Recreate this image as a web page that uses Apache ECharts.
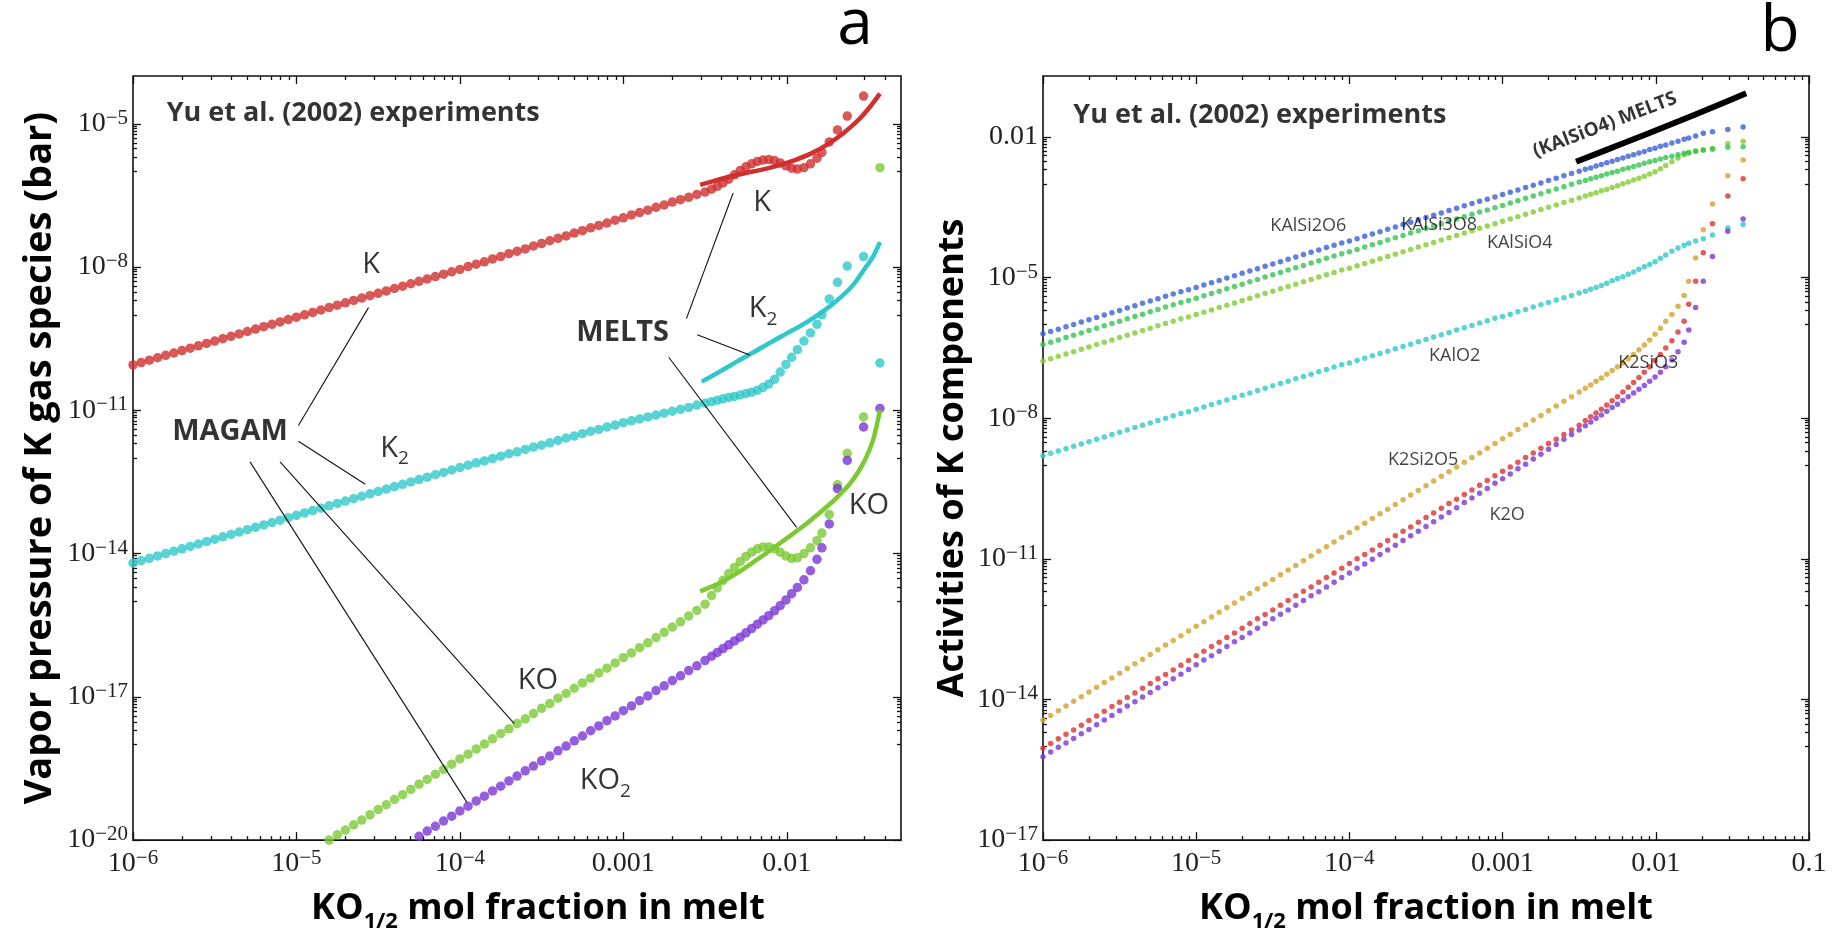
<!DOCTYPE html>
<html>
<head>
<meta charset="utf-8">
<title>K vapor pressures and activities</title>
<script src="https://cdn.jsdelivr.net/npm/echarts@6/dist/echarts.min.js"></script>
</head>
<body style="margin:0; background:#fff">
<div id="main" style="width:1836px; height:938px"></div>
<script>
// log10 of KO1/2 mol fraction for every experimental point (shared by both panels)
var logX = [
  -6.00,-5.95,-5.90,-5.85,-5.80,-5.75,-5.70,-5.65,-5.60,-5.55,
  -5.50,-5.45,-5.40,-5.35,-5.30,-5.25,-5.20,-5.15,-5.10,-5.05,
  -5.00,-4.95,-4.90,-4.85,-4.80,-4.75,-4.70,-4.65,-4.60,-4.55,
  -4.50,-4.45,-4.40,-4.35,-4.30,-4.25,-4.20,-4.15,-4.10,-4.05,
  -4.00,-3.95,-3.90,-3.85,-3.80,-3.75,-3.70,-3.65,-3.60,-3.55,
  -3.50,-3.45,-3.40,-3.35,-3.30,-3.25,-3.20,-3.15,-3.10,-3.05,
  -3.00,-2.95,-2.90,-2.85,-2.80,-2.75,-2.70,-2.65,-2.60,-2.55,
  -2.50,-2.46,-2.425,-2.39,-2.355,-2.32,-2.285,-2.25,-2.215,-2.18,
  -2.145,-2.11,-2.075,-2.04,-2.005,-1.97,-1.935,-1.895,-1.855,-1.815,
  -1.785,-1.74,-1.69,-1.63,-1.53,-1.43
];

// ---- panel a : log10 vapor pressure (bar), MAGAM points ----
var pK = [
  -10.05,-10.00,-9.95,-9.90,-9.85,-9.80,-9.75,-9.70,-9.65,-9.60,
  -9.55,-9.50,-9.45,-9.40,-9.35,-9.30,-9.25,-9.20,-9.15,-9.10,
  -9.05,-9.00,-8.95,-8.90,-8.85,-8.80,-8.75,-8.70,-8.65,-8.60,
  -8.55,-8.50,-8.45,-8.40,-8.35,-8.30,-8.25,-8.20,-8.15,-8.10,
  -8.05,-7.99,-7.94,-7.89,-7.83,-7.78,-7.72,-7.67,-7.62,-7.56,
  -7.51,-7.45,-7.40,-7.35,-7.29,-7.24,-7.18,-7.13,-7.08,-7.02,
  -6.97,-6.91,-6.86,-6.81,-6.75,-6.70,-6.64,-6.59,-6.54,-6.48,
  -6.43,-6.37,-6.31,-6.24,-6.16,-6.07,-5.98,-5.90,-5.84,-5.79,
  -5.76,-5.75,-5.77,-5.82,-5.88,-5.93,-5.95,-5.92,-5.84,-5.72,
  -5.60,-5.38,-5.13,-4.84,-4.42,null
];
var pK2 = [
  -14.20,-14.15,-14.10,-14.05,-14.00,-13.95,-13.90,-13.85,-13.80,-13.75,
  -13.70,-13.65,-13.60,-13.55,-13.50,-13.45,-13.40,-13.35,-13.30,-13.25,
  -13.20,-13.15,-13.10,-13.05,-13.00,-12.95,-12.90,-12.85,-12.80,-12.75,
  -12.70,-12.65,-12.60,-12.55,-12.50,-12.45,-12.40,-12.35,-12.30,-12.25,
  -12.20,-12.15,-12.10,-12.06,-12.01,-11.96,-11.91,-11.87,-11.82,-11.77,
  -11.73,-11.68,-11.63,-11.58,-11.54,-11.49,-11.44,-11.40,-11.35,-11.31,
  -11.26,-11.22,-11.18,-11.14,-11.10,-11.06,-11.02,-10.98,-10.94,-10.89,
  -10.85,-10.82,-10.79,-10.76,-10.73,-10.71,-10.68,-10.65,-10.62,-10.58,
  -10.52,-10.45,-10.35,-10.20,-10.04,-9.89,-9.73,-9.55,-9.38,-9.20,
  -9.00,-8.67,-8.32,-7.98,-7.78,-10.01
];
var pKO = [
  null,null,null,null,null,null,null,null,null,null,
  null,null,null,null,null,null,null,null,null,null,
  null,null,null,-20.11,-20.00,-19.89,-19.79,-19.68,-19.58,-19.47,
  -19.36,-19.26,-19.15,-19.05,-18.94,-18.83,-18.73,-18.62,-18.52,-18.41,
  -18.30,-18.20,-18.09,-17.99,-17.88,-17.77,-17.67,-17.56,-17.46,-17.35,
  -17.24,-17.14,-17.03,-16.93,-16.82,-16.71,-16.61,-16.50,-16.40,-16.29,
  -16.18,-16.08,-15.97,-15.87,-15.76,-15.65,-15.54,-15.43,-15.31,-15.19,
  -15.06,-14.88,-14.72,-14.56,-14.42,-14.29,-14.17,-14.06,-13.97,-13.90,
  -13.86,-13.86,-13.90,-13.97,-14.05,-14.10,-14.09,-14.00,-13.88,-13.73,
  -13.57,-13.18,-12.56,-11.90,-11.14,-5.92
];
var pKO2 = [
  null,null,null,null,null,null,null,null,null,null,
  null,null,null,null,null,null,null,null,null,null,
  null,null,null,null,null,null,null,null,null,null,
  null,null,null,-20.13,-20.02,-19.92,-19.81,-19.71,-19.60,-19.50,
  -19.39,-19.29,-19.18,-19.08,-18.97,-18.87,-18.76,-18.66,-18.55,-18.45,
  -18.34,-18.24,-18.13,-18.03,-17.92,-17.82,-17.71,-17.61,-17.50,-17.40,
  -17.29,-17.19,-17.08,-16.98,-16.87,-16.77,-16.66,-16.56,-16.45,-16.35,
  -16.24,-16.15,-16.07,-15.99,-15.91,-15.83,-15.75,-15.66,-15.57,-15.48,
  -15.39,-15.30,-15.20,-15.09,-14.97,-14.84,-14.71,-14.55,-14.36,-14.12,
  -13.88,-13.38,-12.64,-12.05,-11.35,-10.96
];

// MELTS curves of panel a (log10 x, log10 p)
var meltsKx  = [-2.53,-2.45,-2.35,-2.25,-2.15,-2.05,-1.95,-1.85,-1.75,-1.65,-1.55,-1.48,-1.43];
var meltsK   = [-6.28,-6.20,-6.11,-6.03,-5.96,-5.87,-5.76,-5.62,-5.43,-5.19,-4.88,-4.60,-4.37];
var meltsK2x = [-2.52,-2.40,-2.30,-2.20,-2.10,-2.00,-1.90,-1.80,-1.70,-1.60,-1.52,-1.47,-1.43];
var meltsK2  = [-10.40,-10.17,-9.97,-9.78,-9.58,-9.39,-9.20,-8.98,-8.72,-8.40,-8.02,-7.77,-7.48];
var meltsKOx = [-2.53,-2.40,-2.30,-2.20,-2.10,-2.00,-1.90,-1.80,-1.70,-1.60,-1.52,-1.47,-1.43];
var meltsKO  = [-14.79,-14.60,-14.40,-14.17,-13.93,-13.68,-13.43,-13.15,-12.85,-12.48,-12.03,-11.60,-11.00];

// ---- panel b : log10 activities ----
var aKAlSi2O6 = [
  -6.20,-6.15,-6.10,-6.05,-6.00,-5.95,-5.90,-5.85,-5.80,-5.75,
  -5.70,-5.65,-5.60,-5.55,-5.50,-5.45,-5.40,-5.35,-5.30,-5.26,
  -5.21,-5.16,-5.11,-5.06,-5.01,-4.96,-4.91,-4.86,-4.81,-4.76,
  -4.71,-4.66,-4.61,-4.56,-4.51,-4.46,-4.41,-4.36,-4.31,-4.26,
  -4.22,-4.17,-4.12,-4.07,-4.02,-3.97,-3.92,-3.87,-3.82,-3.77,
  -3.72,-3.67,-3.62,-3.57,-3.52,-3.47,-3.42,-3.37,-3.33,-3.28,
  -3.23,-3.18,-3.13,-3.08,-3.03,-2.98,-2.93,-2.88,-2.83,-2.78,
  -2.73,-2.69,-2.66,-2.62,-2.59,-2.55,-2.52,-2.48,-2.45,-2.41,
  -2.38,-2.34,-2.31,-2.27,-2.24,-2.20,-2.17,-2.13,-2.09,-2.05,
  -2.02,-1.98,-1.92,-1.89,-1.84,-1.79
];
var aKAlSi3O8 = [
  -6.43,-6.38,-6.33,-6.28,-6.23,-6.18,-6.13,-6.08,-6.03,-5.98,
  -5.93,-5.88,-5.83,-5.78,-5.73,-5.68,-5.63,-5.58,-5.53,-5.49,
  -5.44,-5.39,-5.34,-5.29,-5.24,-5.19,-5.14,-5.09,-5.04,-4.99,
  -4.94,-4.89,-4.84,-4.79,-4.74,-4.69,-4.64,-4.59,-4.54,-4.49,
  -4.45,-4.40,-4.35,-4.30,-4.25,-4.20,-4.15,-4.10,-4.05,-4.00,
  -3.95,-3.90,-3.85,-3.80,-3.75,-3.70,-3.65,-3.60,-3.56,-3.51,
  -3.46,-3.41,-3.36,-3.31,-3.26,-3.21,-3.16,-3.11,-3.06,-3.01,
  -2.96,-2.93,-2.89,-2.86,-2.83,-2.79,-2.76,-2.73,-2.69,-2.66,
  -2.63,-2.60,-2.56,-2.53,-2.50,-2.47,-2.44,-2.41,-2.38,-2.35,
  -2.33,-2.30,-2.28,-2.26,-2.22,-2.21
];
var aKAlSiO4 = [
  -6.78,-6.73,-6.68,-6.63,-6.58,-6.53,-6.48,-6.43,-6.38,-6.33,
  -6.28,-6.23,-6.18,-6.13,-6.08,-6.03,-5.98,-5.93,-5.88,-5.84,
  -5.79,-5.74,-5.69,-5.64,-5.59,-5.54,-5.49,-5.44,-5.39,-5.34,
  -5.29,-5.24,-5.19,-5.14,-5.09,-5.04,-4.99,-4.94,-4.89,-4.84,
  -4.80,-4.75,-4.70,-4.65,-4.60,-4.55,-4.50,-4.45,-4.40,-4.35,
  -4.30,-4.25,-4.20,-4.15,-4.10,-4.05,-4.00,-3.95,-3.90,-3.85,
  -3.80,-3.75,-3.70,-3.65,-3.60,-3.55,-3.50,-3.45,-3.40,-3.35,
  -3.30,-3.26,-3.22,-3.19,-3.15,-3.12,-3.08,-3.04,-3.00,-2.96,
  -2.92,-2.88,-2.84,-2.79,-2.74,-2.68,-2.61,-2.53,-2.45,-2.38,
  -2.34,-2.31,-2.28,-2.24,-2.14,-2.09
];
var aKAlO2 = [
  -8.80,-8.75,-8.70,-8.65,-8.60,-8.55,-8.50,-8.45,-8.40,-8.35,
  -8.30,-8.25,-8.20,-8.15,-8.10,-8.05,-8.00,-7.95,-7.90,-7.86,
  -7.81,-7.76,-7.71,-7.66,-7.61,-7.56,-7.51,-7.46,-7.41,-7.36,
  -7.31,-7.26,-7.21,-7.16,-7.11,-7.06,-7.01,-6.96,-6.91,-6.86,
  -6.82,-6.77,-6.72,-6.67,-6.62,-6.57,-6.52,-6.47,-6.42,-6.37,
  -6.32,-6.27,-6.22,-6.17,-6.12,-6.07,-6.02,-5.97,-5.92,-5.87,
  -5.83,-5.78,-5.73,-5.68,-5.63,-5.58,-5.53,-5.48,-5.43,-5.38,
  -5.33,-5.29,-5.25,-5.21,-5.17,-5.12,-5.07,-5.02,-4.98,-4.93,
  -4.88,-4.82,-4.77,-4.72,-4.66,-4.59,-4.52,-4.44,-4.37,-4.31,
  -4.27,-4.22,-4.17,-4.09,-3.94,-3.87
];
var aK2Si2O5 = [
  -14.44,-14.34,-14.24,-14.14,-14.04,-13.94,-13.84,-13.74,-13.64,-13.54,
  -13.44,-13.34,-13.24,-13.14,-13.04,-12.94,-12.84,-12.74,-12.64,-12.54,
  -12.44,-12.34,-12.24,-12.14,-12.04,-11.94,-11.84,-11.74,-11.64,-11.54,
  -11.44,-11.34,-11.24,-11.14,-11.04,-10.94,-10.84,-10.74,-10.64,-10.54,
  -10.44,-10.34,-10.24,-10.14,-10.04,-9.94,-9.84,-9.74,-9.64,-9.54,
  -9.44,-9.34,-9.24,-9.14,-9.04,-8.94,-8.84,-8.74,-8.64,-8.54,
  -8.44,-8.34,-8.24,-8.14,-8.04,-7.94,-7.84,-7.74,-7.64,-7.54,
  -7.44,-7.36,-7.29,-7.21,-7.14,-7.06,-6.98,-6.90,-6.82,-6.73,
  -6.64,-6.54,-6.44,-6.33,-6.21,-6.08,-5.93,-5.79,-5.61,-5.38,
  -5.08,-4.58,-3.98,-3.43,-2.83,-2.49
];
var aK2SiO3 = [
  -15.04,-14.94,-14.84,-14.74,-14.65,-14.55,-14.45,-14.35,-14.25,-14.15,
  -14.06,-13.96,-13.86,-13.76,-13.66,-13.56,-13.47,-13.37,-13.27,-13.17,
  -13.07,-12.97,-12.87,-12.78,-12.68,-12.58,-12.48,-12.38,-12.28,-12.19,
  -12.09,-11.99,-11.89,-11.79,-11.69,-11.60,-11.50,-11.40,-11.30,-11.20,
  -11.10,-11.00,-10.91,-10.81,-10.71,-10.61,-10.51,-10.41,-10.32,-10.22,
  -10.12,-10.02,-9.92,-9.82,-9.73,-9.63,-9.53,-9.43,-9.33,-9.23,
  -9.13,-9.04,-8.94,-8.84,-8.74,-8.64,-8.54,-8.45,-8.35,-8.25,
  -8.15,-8.05,-7.97,-7.89,-7.81,-7.72,-7.63,-7.54,-7.44,-7.34,
  -7.24,-7.13,-7.02,-6.90,-6.77,-6.64,-6.50,-6.35,-6.16,-5.93,
  -5.57,-5.08,-4.47,-3.85,-3.26,-2.89
];
var aK2O = [
  -15.22,-15.12,-15.02,-14.93,-14.83,-14.73,-14.64,-14.54,-14.44,-14.34,
  -14.24,-14.14,-14.05,-13.95,-13.85,-13.75,-13.66,-13.56,-13.46,-13.36,
  -13.26,-13.16,-13.07,-12.97,-12.87,-12.77,-12.68,-12.58,-12.48,-12.38,
  -12.28,-12.18,-12.09,-11.99,-11.89,-11.79,-11.70,-11.60,-11.50,-11.40,
  -11.30,-11.20,-11.11,-11.01,-10.91,-10.81,-10.71,-10.61,-10.51,-10.41,
  -10.31,-10.21,-10.11,-10.01,-9.91,-9.80,-9.70,-9.60,-9.50,-9.39,
  -9.29,-9.19,-9.08,-8.98,-8.87,-8.77,-8.66,-8.56,-8.45,-8.35,
  -8.25,-8.16,-8.08,-8.00,-7.93,-7.85,-7.77,-7.70,-7.62,-7.54,
  -7.46,-7.38,-7.30,-7.21,-7.12,-7.02,-6.90,-6.76,-6.58,-6.38,
  -6.12,-5.64,-5.08,-4.55,-4.01,-3.75
];
// MELTS KAlSiO4 activity
var meltsBx = [-2.52,-2.20,-1.90,-1.60,-1.41];
var meltsBy = [-2.53,-2.12,-1.73,-1.33,-1.07];

// annotations: [text, log x, log y, style]
var labelsA = [
  ['Yu et al. (2002) experiments', -5.794, -4.78, 'head'],
  ['MAGAM', -5.406, -11.45, 'bold'],
  ['MELTS', -3.004, -9.37, 'bold'],
  ['K', -4.543, -7.96, 'sp'],
  ['K{s|2}', -4.40, -11.80, 'sp'],
  ['K', -2.150, -6.66, 'sp'],
  ['K{s|2}', -2.145, -8.88, 'sp'],
  ['KO', -3.523, -16.67, 'sp'],
  ['KO{s|2}', -3.110, -18.76, 'sp'],
  ['KO', -1.497, -12.99, 'sp']
];
// leader lines: [x1, y1, x2, y2]
var leadersA = [
  [-4.988, -11.32, -4.559, -8.85],
  [-4.988, -11.65, -4.579, -12.55],
  [-5.100, -12.08, -3.667, -17.56],
  [-5.284, -12.08, -3.957, -19.21],
  [-2.614, -9.08, -2.328, -6.45],
  [-2.548, -9.42, -2.226, -9.84],
  [-2.722, -9.89, -1.940, -13.45]
];
var labelsB = [
  ['Yu et al. (2002) experiments', -5.802, -1.53, 'head'],
  ['KAlSi2O6', -4.268, -3.89, 'small'],
  ['KAlSi3O8', -3.414, -3.87, 'small'],
  ['KAlSiO4', -2.888, -4.25, 'small'],
  ['KAlO2', -3.313, -6.66, 'small'],
  ['K2SiO3', -2.049, -6.82, 'small'],
  ['K2Si2O5', -3.518, -8.89, 'small'],
  ['K2O', -2.971, -10.06, 'small'],
  ['(KAlSiO4) MELTS', -2.332, -1.745, 'rot']
];

var chart = echarts.init(document.getElementById('main'));

function pts(ys) {
  var out = [];
  for (var i = 0; i < logX.length; i++) if (ys[i] != null) out.push([logX[i], ys[i]]);
  return out;
}
function zip(xs, ys) { return xs.map(function (x, i) { return [x, ys[i]]; }); }

// log-style minor ticks
function decadeMinors(n0, n1, maxV) {
  var t = [];
  for (var n = n0; n < n1; n++) for (var k = 2; k <= 9; k++) {
    var v = n + Math.log10(k);
    if (v < maxV - 1e-6) t.push(v);
  }
  return t;
}
function belowMajors(majors, minV) {
  var t = [];
  majors.forEach(function (m) {
    for (var k = 1; k <= 9; k++) {
      var v = m - 1 + Math.log10(k);
      if (v > minV + 1e-6) t.push(v);
    }
  });
  return t;
}

var SERIF = 'Liberation Serif';
var SUP = {
  base: {fontSize: 28, fontFamily: SERIF, color: '#222', lineHeight: 32},
  ex: {fontSize: 21, fontFamily: SERIF, color: '#222', lineHeight: 20, verticalAlign: 'top'}
};
function powLabel(v) {
  var n = Math.round(v);
  if (n === -3) return '{base|0.001}';
  if (n === -2) return '{base|0.01}';
  if (n === -1) return '{base|0.1}';
  return '{base|10}{ex|\u2212' + (-n) + '}';
}

var tickLine = {color: '#111', width: 1.3};
function frameAxes(gi, pos, range, major, minor, labelMargin, name) {
  var common = {type: 'value', gridIndex: gi, min: range[0], max: range[1],
    splitLine: {show: false}, axisLine: {show: false, onZero: false}, silent: true};
  var mainAx = Object.assign({}, common, {
    position: pos,
    axisTick: {show: true, inside: true, length: 8, lineStyle: tickLine, customValues: major},
    axisLabel: labelMargin != null
      ? {show: true, customValues: major, formatter: powLabel, rich: SUP, margin: labelMargin,
         fontFamily: SERIF, fontSize: 28, color: '#222', lineHeight: 32}
      : {show: false}
  });
  if (name) Object.assign(mainAx, name);
  var minorAx = Object.assign({}, common, {
    position: pos,
    axisTick: {show: true, inside: true, length: 4, lineStyle: tickLine, customValues: minor},
    axisLabel: {show: false}
  });
  return [mainAx, minorAx];
}

function yName(text, size, gap) {
  return {name: text, nameLocation: 'middle', nameGap: gap,
    nameTextStyle: {fontFamily: 'Open Sans', fontWeight: 'bold', fontSize: size, color: '#000'}};
}
function xName(padLeft) {
  return {
    name: 'KO{s|1/2} mol fraction in melt', nameLocation: 'middle', nameGap: 42,
    nameTextStyle: {fontFamily: 'Open Sans', fontWeight: 'bold', fontSize: 36, color: '#000',
      lineHeight: 48, padding: [0, 0, 0, padLeft],
      rich: {s: {fontFamily: 'Open Sans', fontWeight: 'bold', fontSize: 22, color: '#000', lineHeight: 18, verticalAlign: 'bottom'}}}
  };
}

var xrA = [-6, Math.log10(0.05)], yrA = [-20, -4];
var xrB = [-6, -1], yrB = [-17, -0.7];
var xMajA = [-6, -5, -4, -3, -2], xMinA = decadeMinors(-6, -1, xrA[1]);
var xMajB = [-6, -5, -4, -3, -2, -1], xMinB = decadeMinors(-6, -1, xrB[1]);
var yMajA = [-20, -17, -14, -11, -8, -5], yMinA = belowMajors([-17, -14, -11, -8, -5], -20);
var yMajB = [-17, -14, -11, -8, -5, -2], yMinB = belowMajors([-14, -11, -8, -5, -2], -17);

var xAxes = [].concat(
  frameAxes(0, 'bottom', xrA, xMajA, xMinA, 8, xName(42)),
  frameAxes(0, 'top', xrA, xMajA, xMinA, null),
  frameAxes(1, 'bottom', xrB, xMajB, xMinB, 8, xName(0)),
  frameAxes(1, 'top', xrB, xMajB, xMinB, null)
);
var yAxes = [].concat(
  frameAxes(0, 'left', yrA, yMajA, yMinA, 5, yName('Vapor pressure of K gas species (bar)', 38, 74)),
  frameAxes(0, 'right', yrA, yMajA, yMinA, null),
  frameAxes(1, 'left', yrB, yMajB, yMinB, 5, yName('Activities of K components', 36, 72)),
  frameAxes(1, 'right', yrB, yMajB, yMinB, null)
);

var labelStyles = {
  head: {fontFamily: 'Open Sans', fontWeight: 'bold', fontSize: 27, color: '#000', align: 'left'},
  bold: {fontFamily: 'Open Sans', fontWeight: 'bold', fontSize: 29, color: '#000'},
  sp: {fontFamily: 'Open Sans', fontSize: 29, color: '#000', lineHeight: 40,
       rich: {s: {fontFamily: 'Open Sans', fontSize: 19, color: '#000', lineHeight: 14, verticalAlign: 'bottom'}}},
  small: {fontFamily: 'Open Sans', fontSize: 18, color: '#111'},
  rot: {fontFamily: 'Open Sans', fontWeight: 'bold', fontSize: 19, color: '#000', rotate: 21}
};
function labelSeries(list, ai) {
  return {
    type: 'scatter', xAxisIndex: ai, yAxisIndex: ai, symbolSize: 1, silent: true, z: 10,
    itemStyle: {color: 'rgba(0,0,0,0)'},
    data: list.map(function (l) {
      return {value: [l[1], l[2]],
        label: Object.assign({show: true, position: 'inside', formatter: l[0]}, labelStyles[l[3]])};
    })
  };
}
function dots(ys, color, ai, size) {
  return {type: 'scatter', xAxisIndex: ai, yAxisIndex: ai, symbolSize: size, silent: true,
    itemStyle: {color: color}, data: pts(ys), z: 3};
}
function curve(xs, ys, color, ai, width) {
  return {type: 'line', xAxisIndex: ai, yAxisIndex: ai, data: zip(xs, ys), smooth: 0.3,
    symbol: 'none', silent: true, lineStyle: {color: color, width: width}, z: 4};
}

var C = {red: '#cf2f2f', cyan: '#2fc8c8', green: '#7cc934', purple: '#7a36d6',
         blue: '#3a5fd6', green2: '#32c34d', lime: '#82cb31', gold: '#d4a12b', red2: '#d8322f'};

var option = {
  animation: false,
  backgroundColor: '#fff',
  grid: [
    {left: 133, top: 76, width: 768, height: 767, show: true, borderColor: '#111', borderWidth: 1.6},
    {left: 1043, top: 76, width: 766, height: 766, show: true, borderColor: '#111', borderWidth: 1.6}
  ],
  xAxis: xAxes,
  yAxis: yAxes,
  graphic: [
    {type: 'text', x: 855, y: 26, style: {text: 'a', fontFamily: 'Open Sans', fontSize: 64, fill: '#000', align: 'center', verticalAlign: 'middle'}},
    {type: 'text', x: 1780, y: 33, style: {text: 'b', fontFamily: 'Open Sans', fontSize: 64, fill: '#000', align: 'center', verticalAlign: 'middle'}}
  ],
  series: [
    dots(pK, C.red, 0, 9.5),
    dots(pK2, C.cyan, 0, 9.5),
    dots(pKO, C.green, 0, 9.5),
    dots(pKO2, C.purple, 0, 9.5),
    curve(meltsKx, meltsK, C.red, 0, 4.5),
    curve(meltsK2x, meltsK2, C.cyan, 0, 4.5),
    curve(meltsKOx, meltsKO, C.green, 0, 4.5),
    {type: 'lines', coordinateSystem: 'cartesian2d', xAxisIndex: 0, yAxisIndex: 0, silent: true, z: 6,
      lineStyle: {color: '#111', width: 1.1, opacity: 1},
      data: leadersA.map(function (l) { return {coords: [[l[0], l[1]], [l[2], l[3]]]}; })},
    labelSeries(labelsA, 0),

    dots(aKAlSiO4, C.lime, 4, 5.5),
    dots(aKAlSi3O8, C.green2, 4, 5.5),
    dots(aKAlSi2O6, C.blue, 4, 5.5),
    dots(aKAlO2, C.cyan, 4, 5.5),
    dots(aK2Si2O5, C.gold, 4, 5.5),
    dots(aK2SiO3, C.red2, 4, 5.5),
    dots(aK2O, C.purple, 4, 5.5),
    curve(meltsBx, meltsBy, '#000', 4, 6),
    labelSeries(labelsB, 4)
  ]
};
chart.setOption(option);
</script>
</body>
</html>
